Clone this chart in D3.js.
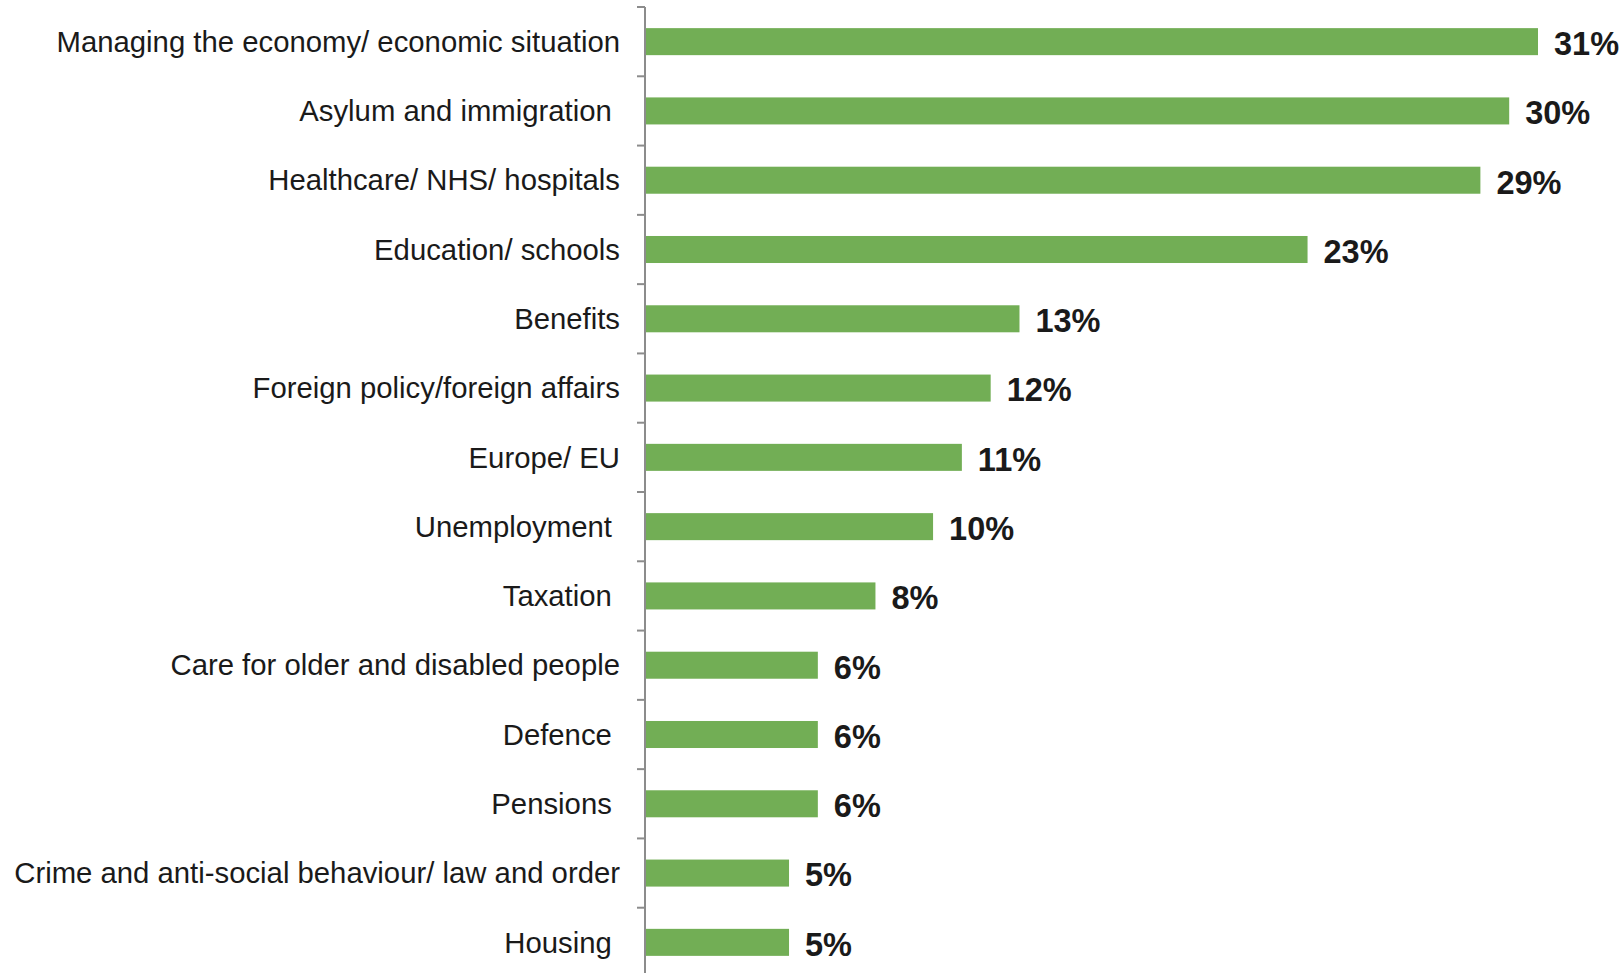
<!DOCTYPE html>
<html>
<head>
<meta charset="utf-8">
<script src="https://cdn.jsdelivr.net/npm/d3@7/dist/d3.min.js"></script>
<style>
  html, body { margin: 0; padding: 0; background: #fff; }
  svg { display: block; }
  text { font-family: "Liberation Sans", Arial, sans-serif; white-space: pre; }
</style>
</head>
<body>
<svg id="chart" width="1623" height="973"></svg>
<script>
const categories = [
  "Managing the economy/ economic situation",
  "Asylum and immigration ",
  "Healthcare/ NHS/ hospitals",
  "Education/ schools",
  "Benefits",
  "Foreign policy/foreign affairs",
  "Europe/ EU",
  "Unemployment ",
  "Taxation ",
  "Care for older and disabled people",
  "Defence ",
  "Pensions ",
  "Crime and anti-social behaviour/ law and order",
  "Housing "
];
const values = [31, 30, 29, 23, 13, 12, 11, 10, 8, 6, 6, 6, 5, 5];
const valueLabels = ["31%", "30%", "29%", "23%", "13%", "12%", "11%", "10%", "8%", "6%", "6%", "6%", "5%", "5%"];

const svg = d3.select("#chart");
const x0 = 645;
const x = d3.scaleLinear().domain([0, 31]).range([x0, 1538]);
const y = d3.scaleBand().domain(categories).range([7, 977]).paddingInner(0.61).paddingOuter(0.305);

const data = categories.map((c, i) => ({ c, v: values[i], l: valueLabels[i] }));

svg.selectAll("rect.bar").data(data).join("rect")
  .attr("class", "bar")
  .attr("x", x(0) + 1)
  .attr("y", d => y(d.c))
  .attr("width", d => x(d.v) - x(0) - 1)
  .attr("height", y.bandwidth())
  .attr("fill", "#72ae55");

// axis line and ticks at band boundaries
const step = y.step();
const tickYs = d3.range(categories.length + 1).map(i => y.range()[0] + i * step);
svg.append("line")
  .attr("x1", x0).attr("x2", x0)
  .attr("y1", tickYs[0]).attr("y2", tickYs[tickYs.length - 1])
  .attr("stroke", "#8c8c8c").attr("stroke-width", 2);
svg.selectAll("line.tick").data(tickYs).join("line")
  .attr("class", "tick")
  .attr("x1", x0 - 8).attr("x2", x0)
  .attr("y1", d => d).attr("y2", d => d)
  .attr("stroke", "#8c8c8c").attr("stroke-width", 2);

svg.selectAll("text.cat").data(data).join("text")
  .attr("class", "cat")
  .attr("x", 620)
  .attr("y", d => y(d.c) + y.bandwidth() / 2)
  .attr("dy", "0.35em")
  .attr("text-anchor", "end")
  .attr("font-size", 29.3)
  .attr("fill", "#1a1a1a")
  .text(d => d.c);

svg.selectAll("text.val").data(data).join("text")
  .attr("class", "val")
  .attr("x", d => x(d.v) + 16)
  .attr("y", d => y(d.c) + y.bandwidth() / 2 + 2)
  .attr("dy", "0.35em")
  .attr("font-size", 32.5)
  .attr("font-weight", "bold")
  .attr("fill", "#1a1a1a")
  .text(d => d.l);
</script>
</body>
</html>
